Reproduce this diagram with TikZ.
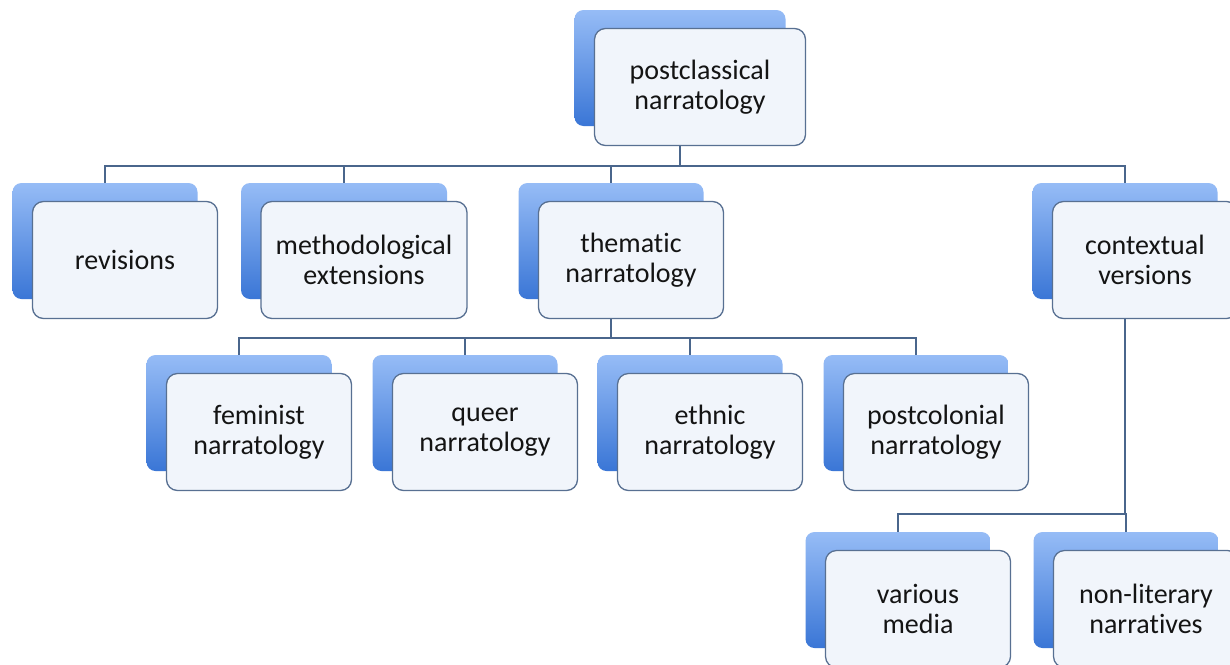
\documentclass[tikz,border=0pt]{standalone}
\usepackage{fontspec}
\setmainfont{Carlito}[Ligatures={NoCommon}]
\usepackage{tikz}
\usepackage{xcolor}
\definecolor{backtop}{RGB}{150,188,246}
\definecolor{backbot}{RGB}{58,118,214}
\definecolor{frontfill}{RGB}{241,245,251}
\definecolor{frontline}{RGB}{88,112,146}
\definecolor{linkblue}{RGB}{74,102,140}

\tikzset{
  backbox/.style={rounded corners=9pt, top color=backtop, bottom color=backbot,
    minimum height=116pt, inner sep=0pt},
  frontbox/.style={rounded corners=11pt, fill=frontfill, draw=frontline,
    line width=1.3pt, minimum height=117pt, inner sep=0pt, align=center,
    font=\fontsize{28}{30}\selectfont, text=black!92},
  link/.style={draw=linkblue, line width=1.6pt}
}

\begin{document}
\begin{tikzpicture}[x=1pt, y=-1pt]

% ── Seitenrahmen ──────────────────────────────────────────────────────
\fill[white] (0,0) rectangle (1230,664);
\useasboundingbox (0,0) rectangle (1230,664);

% ── Ebene 0 / 1 / 2 / 3: Hintergrundkarten ───────────────────────────
% Mitte der blauen Karte bei (\x,\y), weiße Karte um (20,19) versetzt
\foreach \id/\x/\y/\w in {
   top/680/68/211,
   rev/105/241/185,
   meth/344/241/206,
   them/611/241/185,
   cont/1125/241/185,
   fem/239/413/185,
   queer/465/413/185,
   eth/690/413/185,
   post/916/413/185,
   media/898/590/185,
   nonlit/1126/590/185}
{
  \node[backbox, minimum width=\w pt] (\id-b) at (\x,\y) {};
}

% ── Verbindungen (hinter den weißen Karten) ──────────────────────────
\foreach \child in {rev, meth, them, cont}
  \draw[link] (top-b.south) -- +(0,40) -| (\child-b.north);
\foreach \child in {fem, queer, eth, post}
  \draw[link] (them-b.south) -- +(0,39) -| (\child-b.north);
\foreach \child in {media, nonlit}
  \draw[link] (cont-b.south) -- +(0,215) -| (\child-b.north);

% ── Weiße Karten mit Text ────────────────────────────────────────────
\foreach \id/\w/\txt in {
   top/211/postclassical\\narratology,
   rev/185/revisions,
   meth/206/methodological\\extensions,
   them/185/thematic\\narratology,
   cont/185/contextual\\versions,
   fem/185/feminist\\narratology,
   queer/185/queer\\narratology,
   eth/185/ethnic\\narratology,
   post/185/postcolonial\\narratology,
   media/185/various\\media,
   nonlit/185/non-literary\\narratives}
{
  \node[frontbox, minimum width=\w pt] (\id) at ([shift={(20,19)}]\id-b.center) {\txt};
}

\end{tikzpicture}
\end{document}
